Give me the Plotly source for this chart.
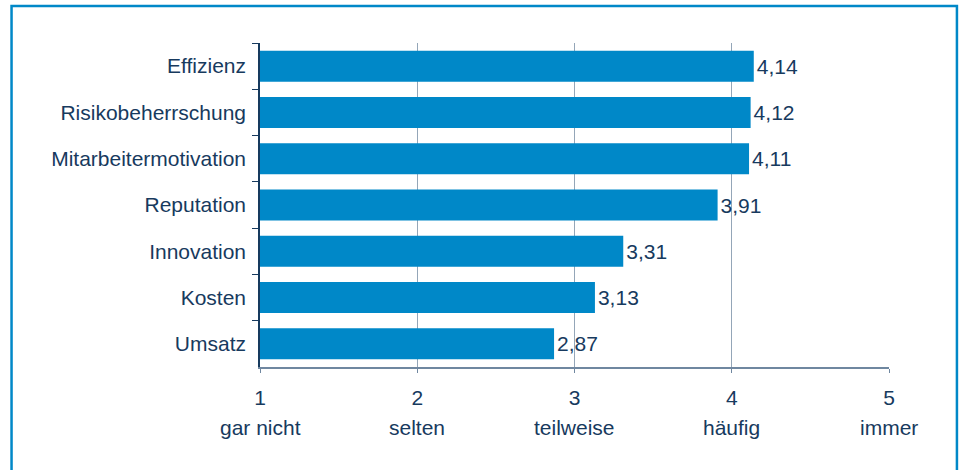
import plotly.graph_objects as go

categories = ['Effizienz', 'Risikobeherrschung', 'Mitarbeitermotivation', 'Reputation',
              'Innovation', 'Kosten', 'Umsatz']
values = [4.14, 4.12, 4.11, 3.91, 3.31, 3.13, 2.87]
scale_ticks = [1, 2, 3, 4, 5]
scale_words = ['gar nicht', 'selten', 'teilweise', 'häufig', 'immer']

navy = '#173a5e'
blue = '#0088c8'

fig = go.Figure(go.Bar(
    x=values,
    y=categories,
    orientation='h',
    marker=dict(color=blue, line=dict(width=0)),
    width=0.67,
    texttemplate='%{x:.2f}',
    textposition='outside',
    textfont=dict(color=navy, size=21),
    cliponaxis=False,
))

# words under the scale numbers
for t, w in zip(scale_ticks, scale_words):
    fig.add_annotation(x=t, y=-0.188, xref='x', yref='paper', text=w, showarrow=False,
                       yanchor='middle', xanchor='center', font=dict(color=navy, size=21))

# blue frame around the chart
fig.add_shape(type='rect', xref='paper', yref='paper', x0=-0.395, x1=1.108, y0=-0.45, y1=1.114,
              line=dict(color=blue, width=2.5), layer='below')

fig.update_layout(
    width=962, height=470,
    margin=dict(l=260, r=73, t=43, b=103),
    plot_bgcolor='white', paper_bgcolor='white',
    separators=',.',
    showlegend=False,
    font=dict(family='Liberation Sans, Arial', size=21, color=navy),
    xaxis=dict(range=[1, 5], tickvals=scale_ticks, showgrid=True, gridcolor='#94a6b8', gridwidth=1,
               showline=True, linecolor='#6f87a0', linewidth=1.5, ticks='outside', ticklen=4,
               tickcolor='#6f87a0', ticklabelstandoff=7, zeroline=False),
    yaxis=dict(autorange='reversed', showline=True, linecolor=navy, linewidth=1.5,
               ticks='outside', tickson='boundaries', ticklen=6, tickcolor=navy,
               ticklabelstandoff=8, showgrid=False),
)

# drop the default body margin so the figure sits at the window corner
fig.write_html("out.html", config={'displayModeBar': False},
               post_script="document.body.style.margin='0';")
